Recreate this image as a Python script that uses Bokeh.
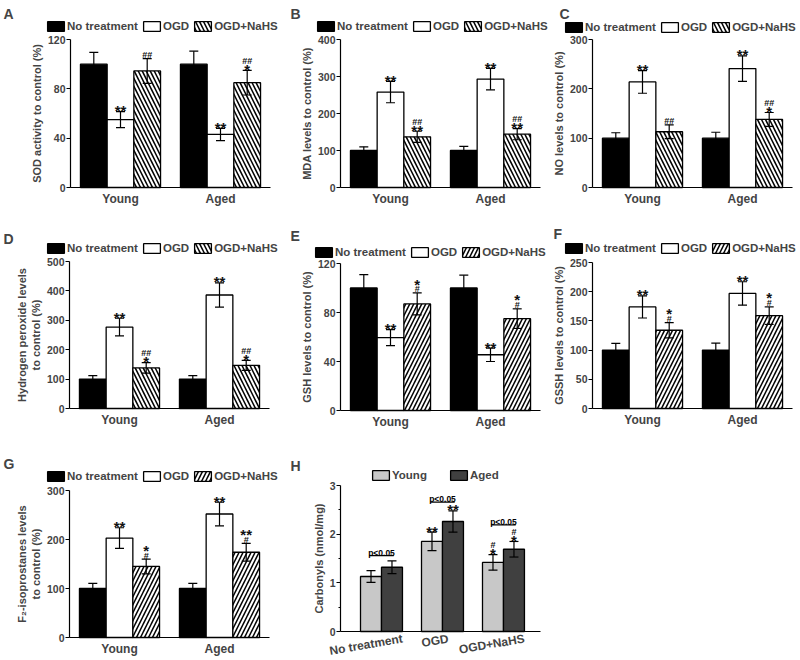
from bokeh.plotting import figure
from bokeh.models import (ColumnDataSource, Whisker, TeeHead, Legend, LegendItem,
                          Label, FixedTicker, Range1d)
from bokeh.layouts import row, column
from bokeh.embed import file_html
from bokeh.resources import INLINE
from bokeh.core.properties import value

# ---------------- data ----------------
groups = ["Young", "Aged"]
treatments = ["No treatment", "OGD", "OGD+NaHS"]

# A: SOD activity
A_young = [100, 55, 94.5]
A_young_err = [9.5, 6.5, 10]
A_aged = [100, 43, 85]
A_aged_err = [10.5, 5, 10]
A_young_sig = [[], ["**"], ["##"]]
A_aged_sig = [[], ["**"], ["##", "*"]]
A_ticks = [0, 40, 80, 120]

# B: MDA
B_young = [100, 258, 137]
B_young_err = [10, 29, 15]
B_aged = [100, 293, 144]
B_aged_err = [11, 29, 15]
B_young_sig = [[], ["**"], ["##", "**"]]
B_aged_sig = [[], ["**"], ["##", "**"]]
B_ticks = [0, 100, 200, 300, 400]

# C: NO
C_young = [100, 214, 113]
C_young_err = [11, 23, 14]
C_aged = [100, 241, 138]
C_aged_err = [12, 26, 14]
C_young_sig = [[], ["**"], ["##"]]
C_aged_sig = [[], ["**"], ["##", "*"]]
C_ticks = [0, 100, 200, 300]

# D: hydrogen peroxide
D_young = [100, 277, 138]
D_young_err = [12, 30, 18]
D_aged = [100, 386, 147]
D_aged_err = [12, 41, 17]
D_young_sig = [[], ["**"], ["##", "*"]]
D_aged_sig = [[], ["**"], ["##", "*"]]
D_ticks = [0, 100, 200, 300, 400, 500]

# E: GSH
E_young = [100, 59.5, 87]
E_young_err = [11, 6.5, 9]
E_aged = [100, 45.5, 75]
E_aged_err = [10.5, 5.5, 8]
E_young_sig = [[], ["**"], ["*", "#"]]
E_aged_sig = [[], ["**"], ["*", "#"]]
E_ticks = [0, 40, 80, 120]

# F: GSSH
F_young = [100, 174, 134]
F_young_err = [11.5, 19, 13]
F_aged = [100, 197, 159]
F_aged_err = [12, 20, 15]
F_young_sig = [[], ["**"], ["*", "#"]]
F_aged_sig = [[], ["**"], ["*", "#"]]
F_ticks = [0, 50, 100, 150, 200, 250]

# G: F2-isoprostanes
G_young = [100, 203, 145]
G_young_err = [10.5, 21, 15]
G_aged = [100, 252, 174]
G_aged_err = [10.5, 24, 18]
G_young_sig = [[], ["**"], ["*", "#"]]
G_aged_sig = [[], ["**"], ["**", "#"]]
G_ticks = [0, 100, 200, 300]

# H: carbonyls
H_groups = ["Young", "Aged"]
H_labels = ["No treatment", "OGD", "OGD+NaHS"]
H_young = [1.13, 1.85, 1.42]
H_young_err = [0.12, 0.19, 0.16]
H_aged = [1.32, 2.26, 1.69]
H_aged_err = [0.13, 0.22, 0.16]
H_young_sig = [[], ["**"], ["#", "*"]]
H_aged_sig = [[], ["**"], ["#", "*"]]
H_p_y = [1.56, 2.66, 2.19]
H_p_text = ["p<0.05", "p<0.05", "p<0.05"]
H_ticks = [0, 1, 2, 3]
H_minor = [0.5, 1.5, 2.5]

# ---------------- style ----------------
FONT = "Liberation Sans"
# size, style, visible bottom / top above baseline (px)
MARK_STYLE = {"star": ("15px", "bold", 2.5, 7.0), "hash": ("9px", "bold", 0.0, 6.4)}


def stack_marks(marks):
    out = []
    cursor = 3.5
    for m in reversed(marks):
        kind = "star" if "*" in m else "hash"
        size, style, vb, vt = MARK_STYLE[kind]
        base = cursor - vb
        out.append((m, kind, -base))
        cursor = base + vt + 1.5
    return out


class Panel:
    def __init__(self, cell, frame, xdata, ymax, yticks, ylabel, minor=None):
        fx, fy, W, H = cell
        L, R, T, B = frame
        x0, x1 = xdata
        self.cell = cell
        self.u = (R - L) / (x1 - x0)
        self.v = (B - T) / ymax
        self.xs = x0 - (L - fx) / self.u
        self.ye = ymax + (T - fy) / self.v
        xr = Range1d(self.xs, x1 + (fx + W - R) / self.u)
        yr = Range1d(0 - (fy + H - B) / self.v, self.ye)
        p = figure(width=W, height=H, output_backend="svg", toolbar_location=None,
                   x_range=xr, y_range=yr, min_border=0)
        p.outline_line_color = None
        p.grid.visible = False
        ya = p.yaxis[0]
        ya.fixed_location = x0
        ya.bounds = (0, ymax)
        ya.ticker = FixedTicker(ticks=yticks, minor_ticks=minor or [])
        ya.axis_label = ylabel
        ya.axis_label_text_font = FONT
        ya.axis_label_text_font_style = "bold"
        ya.axis_label_text_font_size = "11px"
        ya.axis_label_standoff = 2
        ya.major_label_text_font = FONT
        ya.major_label_text_font_style = "bold"
        ya.major_label_text_font_size = "10.5px"
        ya.major_label_standoff = 1
        ya.major_tick_out = 4
        ya.major_tick_in = 0
        ya.minor_tick_out = 2
        ya.minor_tick_in = 0
        ya.axis_line_width = 1.2
        ya.major_tick_line_width = 1.2
        xa = p.xaxis[0]
        xa.fixed_location = 0
        xa.bounds = (x0, x1)
        xa.major_label_text_font = FONT
        xa.major_label_text_font_style = "bold"
        xa.major_label_text_font_size = "12px"
        xa.major_label_standoff = 4
        xa.major_tick_out = 0
        xa.major_tick_in = 0
        xa.minor_tick_out = 0
        xa.minor_tick_in = 0
        xa.major_tick_line_color = None
        xa.minor_tick_line_color = None
        xa.axis_line_width = 1.2
        self.p = p

    def X(self, px):
        return self.xs + (px - self.cell[0]) / self.u

    def Y(self, py):
        return self.ye - (py - self.cell[1]) / self.v

    def letter(self, text, lx, ly):
        self.p.add_layout(Label(x=self.X(lx), y=self.Y(ly + 10), text=text, text_font=FONT,
                                text_font_style="bold", text_font_size="14px",
                                text_baseline="alphabetic", text_align="left"))

    def legend(self, items, box_left, center_y, spacing=3):
        fx, fy, W, H = self.cell
        leg = Legend(items=items)
        leg.location = (box_left - 2 - fx, fy + H - (center_y + 7))
        leg.orientation = "horizontal"
        leg.label_text_font = FONT
        leg.label_text_font_style = "bold"
        leg.label_text_font_size = "11.5px"
        leg.label_standoff = 1
        leg.glyph_width = 21
        leg.glyph_height = 12
        leg.label_height = 12
        leg.spacing = spacing
        leg.padding = 0
        leg.margin = 0
        leg.border_line_color = None
        leg.background_fill_alpha = 0
        self.p.add_layout(leg)


def add_marks(p, xs, uppers, sigs):
    data = {"star": dict(x=[], y=[], text=[], yo=[]), "hash": dict(x=[], y=[], text=[], yo=[])}
    for x, u, s in zip(xs, uppers, sigs):
        for m, kind, yo in stack_marks(s):
            d = data[kind]
            d["x"].append(x); d["y"].append(u); d["text"].append(m); d["yo"].append(yo)
    for kind, d in data.items():
        size, style, _, _ = MARK_STYLE[kind]
        p.text(x="x", y="y", text="text", y_offset="yo", source=ColumnDataSource(d),
               text_font=value(FONT), text_font_style=style, text_font_size=size,
               text_align="center", text_baseline="alphabetic", text_color="#111111")


def add_whisker(p, src):
    p.add_layout(Whisker(base="x", upper="upper", lower="lower", source=src,
                         line_color="black", line_width=1.2, level="overlay",
                         upper_head=TeeHead(size=9, line_width=1.2, line_color="black"),
                         lower_head=TeeHead(size=9, line_width=1.2, line_color="black")))


def bar_panel(letter, ylabel, yticks, young, young_err, aged, aged_err,
              young_sig, aged_sig, hatch, cell, frame, leg_pos, let_pos):
    P = Panel(cell, frame, (0.5, 2.5), yticks[-1], yticks, ylabel)
    p = P.p
    p.xaxis[0].ticker = FixedTicker(ticks=[1, 2])
    p.xaxis[0].major_label_overrides = {1: groups[0], 2: groups[1]}
    bw = 0.267
    offs = [-bw, 0, bw]
    styles = [dict(fill_color="black"), dict(fill_color="white"),
              dict(fill_color="white", hatch_pattern=hatch, hatch_color="black",
                   hatch_scale=8, hatch_weight=1.5)]
    rends = []
    for t in range(3):
        xs = [1 + offs[t], 2 + offs[t]]
        tops = [young[t], aged[t]]
        errs = [young_err[t], aged_err[t]]
        src = ColumnDataSource(dict(x=xs, top=tops,
                                    upper=[a + e for a, e in zip(tops, errs)],
                                    lower=[a - e for a, e in zip(tops, errs)]))
        r = p.vbar(x="x", top="top", width=bw, source=src, line_color="black",
                   line_width=1.3, **styles[t])
        rends.append(r)
        add_whisker(p, src)
        add_marks(p, xs, src.data["upper"], [young_sig[t], aged_sig[t]])
    P.legend([LegendItem(label=treatments[i], renderers=[rends[i]]) for i in range(3)], *leg_pos)
    P.letter(letter, *let_pos)
    return p


# cells: fig x, y, width, height ; frames: data-area L, R, T, B (page px)
BS = "\\"
FS = "/"
pA = bar_panel("A", "SOD activity to control (%)", A_ticks, A_young, A_young_err, A_aged, A_aged_err,
               A_young_sig, A_aged_sig, BS, (0, 0, 287, 215), (70, 270, 39, 187), (47, 25), (3, 3))
pB = bar_panel("B", "MDA levels to control (%)", B_ticks, B_young, B_young_err, B_aged, B_aged_err,
               B_young_sig, B_aged_sig, BS, (287, 0, 264, 215), (340, 540, 39, 187), (317, 25), (290, 3))
pC = bar_panel("C", "NO levels to control (%)", C_ticks, C_young, C_young_err, C_aged, C_aged_err,
               C_young_sig, C_aged_sig, BS, (551, 0, 249, 215), (592, 792, 39, 187), (565, 26), (559, 3))
pD = bar_panel("D", "Hydrogen peroxide levels\nto control (%)", D_ticks, D_young, D_young_err, D_aged,
               D_aged_err, D_young_sig, D_aged_sig, BS, (0, 215, 287, 225), (69, 269, 261, 408),
               (47, 247), (3, 228))
pE = bar_panel("E", "GSH levels to control (%)", E_ticks, E_young, E_young_err, E_aged, E_aged_err,
               E_young_sig, E_aged_sig, FS, (287, 215, 264, 225), (340, 540, 263, 410), (315, 251), (290, 225))
pF = bar_panel("F", "GSSH levels to control (%)", F_ticks, F_young, F_young_err, F_aged, F_aged_err,
               F_young_sig, F_aged_sig, FS, (551, 215, 249, 225), (592, 792, 262, 408), (565, 247), (553, 223))
pG = bar_panel("G", "F\u2082-isoprostanes levels\nto control (%)", G_ticks, G_young, G_young_err, G_aged,
               G_aged_err, G_young_sig, G_aged_sig, FS, (0, 440, 287, 218), (69, 269, 490, 637),
               (47, 475), (3, 453))

# ---- panel H ----
PH = Panel((287, 440, 513, 218), (340, 540, 485, 631), (0.328, 3.607), H_ticks[-1], H_ticks,
           "Carbonyls (nmol/mg)", H_minor)
pH = PH.p
xa = pH.xaxis[0]
H_label_ticks = [1.344, 2.098, 3.344]
xa.ticker = FixedTicker(ticks=H_label_ticks)
xa.major_label_overrides = {t: lab for t, lab in zip(H_label_ticks, H_labels)}
xa.major_label_orientation = 0.17
xa.major_label_standoff = 7
hb = 0.344
hx = [1, 2, 3]
rends = []
for vals, errs, sigs, off, col in [(H_young, H_young_err, H_young_sig, -hb / 2, "#c8c8c8"),
                                   (H_aged, H_aged_err, H_aged_sig, hb / 2, "#404040")]:
    xs = [x + off for x in hx]
    src = ColumnDataSource(dict(x=xs, top=vals,
                                upper=[a + e for a, e in zip(vals, errs)],
                                lower=[a - e for a, e in zip(vals, errs)]))
    r = pH.vbar(x="x", top="top", width=hb, source=src, fill_color=col,
                line_color="black", line_width=1.3)
    rends.append(r)
    add_whisker(pH, src)
    add_marks(pH, xs, src.data["upper"], sigs)
psrc = ColumnDataSource(dict(x0=[x - 0.2 for x in hx], x1=[x + 0.2 for x in hx], xc=hx,
                             y=H_p_y, text=H_p_text))
pH.segment(x0="x0", y0="y", x1="x1", y1="y", source=psrc, line_color="black", line_width=1.2)
pH.text(x="xc", y="y", text="text", source=psrc, y_offset=-3, text_font=value(FONT),
        text_font_style="bold", text_font_size="8.5px", text_align="center",
        text_baseline="alphabetic", text_color="black")
PH.legend([LegendItem(label=H_groups[i], renderers=[rends[i]]) for i in range(2)], 372, 474, spacing=21)
PH.letter("H", 290, 455)

layout = column(row(pA, pB, pC), row(pD, pE, pF), row(pG, pH))
open("out.html", "w").write(file_html(layout, INLINE))
